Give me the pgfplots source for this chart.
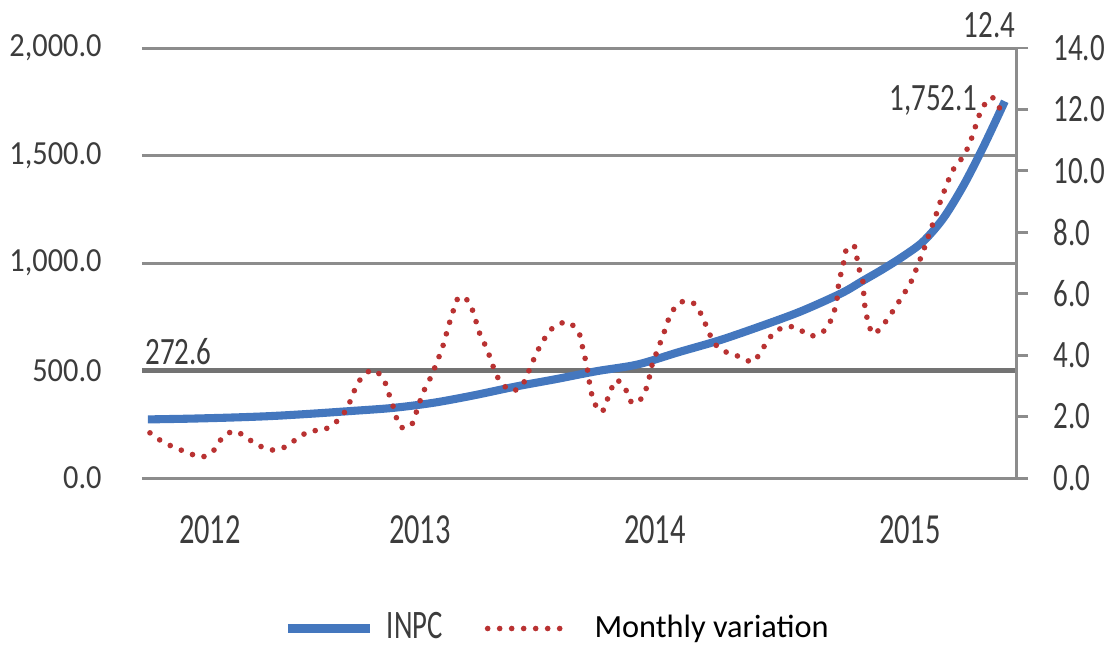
\documentclass[border=0pt]{standalone}
\usepackage{fontspec}
\setmainfont{Carlito}
\newfontfamily\cond{Carlito}[FakeStretch=0.75]
\newfontfamily\condx{Carlito}[FakeStretch=0.71]
\newfontfamily\condl{Carlito}[FakeStretch=0.9]
\usepackage{pgfplots}
\pgfplotsset{compat=1.18}
\definecolor{inpcblue}{RGB}{68,119,190}
\definecolor{varred}{RGB}{185,50,50}
\definecolor{gridgray}{RGB}{140,140,140}
\definecolor{labgray}{RGB}{60,60,60}

\begin{document}
\begin{tikzpicture}
\useasboundingbox (-1.42cm,-1.68cm) rectangle (9.62cm,4.78cm);
% left axis: INPC
\begin{axis}[
  scale only axis, width=8.74cm, height=4.30cm,
  xmin=-0.29, xmax=42.55, ymin=0, ymax=2000,
  axis line style={draw=none}, clip=false,
  ytick={0,1000,1500,2000},
  yticklabels={0.0,{1,000.0},{1,500.0},{2,000.0}},
  extra y ticks={500},
  extra y tick labels={500.0},
  extra y tick style={grid style={draw=black!55,line width=1.3pt}},
  ymajorgrids, grid style={draw=gridgray,line width=0.85pt},
  tick style={draw=none}, major tick length=0pt,
  yticklabel style={font=\condl\fontsize{9.6}{10}\selectfont,text=labgray,xshift=-2.8mm},
  xtick={3.04,13.33,24.85,37.35},
  xticklabels={2012,2013,2014,2015},
  xticklabel style={font=\condx\fontsize{12.2}{13}\selectfont,text=labgray,yshift=-2.5mm},
]
\addplot[inpcblue,line width=2.3pt,smooth] coordinates {
  (0,272.6) (2,276) (4,281) (6,288) (8,299) (10,312) (12,326) (14,350)
  (16,385) (18,425) (20,460) (22,497) (24,528) (26,585) (28,640) (30,705)
  (32,775) (34,860) (35,915) (36,970) (37,1030) (38,1100) (39,1210)
  (40,1365) (41,1550) (42,1752.1)
};
\node[anchor=south west,inner sep=0pt,font=\cond\fontsize{11}{12}\selectfont,text=labgray] at (axis cs:-0.15,521) {272.6};
\node[anchor=east,inner sep=0pt,font=\cond\fontsize{11}{12}\selectfont,text=labgray] at (axis cs:40.7,1758) {1,752.1};
\node[anchor=east,inner sep=0pt,font=\cond\fontsize{11}{12}\selectfont,text=labgray] at (axis cs:42.55,2107) {12.4};
\end{axis}
% right axis: monthly variation
\begin{axis}[
  scale only axis, width=8.74cm, height=4.30cm,
  xmin=-0.29, xmax=42.55, ymin=0, ymax=14,
  axis x line=none, axis y line*=right,
  axis line style={draw=gridgray,line width=0.85pt},
  ytick={0,2,4,6,8,10,12,14},
  yticklabels={0.0,2.0,4.0,6.0,8.0,10.0,12.0,14.0},
  tick align=outside, major tick length=1.2mm,
  tick style={draw=gridgray,line width=0.85pt},
  yticklabel style={font=\cond\fontsize{11}{12}\selectfont,text=labgray,anchor=west,xshift=1.3mm},
  legend style={at={(0.478,-0.35)},anchor=center,draw=none,fill=none,
    legend columns=2,/tikz/every even column/.append style={column sep=3.5mm}},
  legend cell align=left,
  legend image code/.code={\draw[#1] (0cm,0cm) -- (0.82cm,0cm);},
]
\addlegendimage{inpcblue,line width=2.3pt}
\addlegendentry{\condx\fontsize{11.5}{12}\selectfont\color{labgray}\hspace*{0.6mm}INPC}
\addplot[varred,line width=1.6pt,line cap=round,dash pattern=on 0pt off 1.2mm,smooth] coordinates {
  (0.10,1.47) (0.74,1.17) (1.37,0.98) (2.01,0.81) (2.65,0.68) (3.24,0.91)
  (3.68,1.34) (4.27,1.53) (4.85,1.30) (5.49,1.04) (6.13,0.91) (6.72,1.01)
  (7.35,1.30) (7.94,1.53) (8.58,1.56) (9.22,1.82) (9.75,2.25) (10.05,2.74)
  (10.39,3.19) (10.98,3.52) (11.52,3.26) (11.81,2.74) (12.06,2.25) (12.35,1.68)
  (12.89,1.70) (13.19,2.21) (13.48,2.77) (13.87,3.29) (14.17,3.78) (14.46,4.30)
  (14.71,4.89) (14.95,5.41) (15.25,5.90) (15.74,5.73) (16.03,5.21) (16.27,4.69)
  (16.62,4.20) (16.91,3.65) (17.25,3.16) (17.84,2.83) (18.38,3.06) (18.73,3.58)
  (19.07,4.10) (19.46,4.56) (19.90,4.92) (20.59,5.08) (21.13,4.72) (21.32,4.20)
  (21.52,3.62) (21.67,3.00) (21.86,2.48) (22.25,2.15) (22.60,2.70) (22.94,3.19)
  (23.38,2.93) (23.73,2.44) (24.22,2.61) (24.51,3.09) (24.71,3.68) (25.00,4.20)
  (25.29,4.72) (25.59,5.28) (26.03,5.70) (26.67,5.73) (27.11,5.34) (27.45,4.82)
  (27.79,4.36) (28.43,4.07) (29.07,3.94) (29.66,3.78) (30.15,4.23) (30.59,4.66)
  (31.18,4.92) (31.81,4.89) (32.45,4.63) (33.09,4.76) (33.53,5.21) (33.77,5.80)
  (33.87,6.38) (34.07,6.91) (34.26,7.49) (34.66,7.52) (34.80,6.94) (35.05,6.38)
  (35.10,5.80) (35.25,5.21) (35.54,4.69) (36.03,4.98) (36.52,5.44) (36.96,5.90)
  (37.40,6.38) (37.70,6.87) (37.99,7.36) (38.28,7.92) (38.58,8.47) (38.82,8.96)
  (39.17,9.58) (39.46,10.03) (39.95,10.46) (40.29,10.91) (40.59,11.50)
  (40.88,12.02) (41.37,12.40) (41.86,11.89)
};
\addlegendentry{\fontsize{9.2}{11}\selectfont\hspace*{1.5mm}Monthly variation}
\end{axis}
\end{tikzpicture}
\end{document}
